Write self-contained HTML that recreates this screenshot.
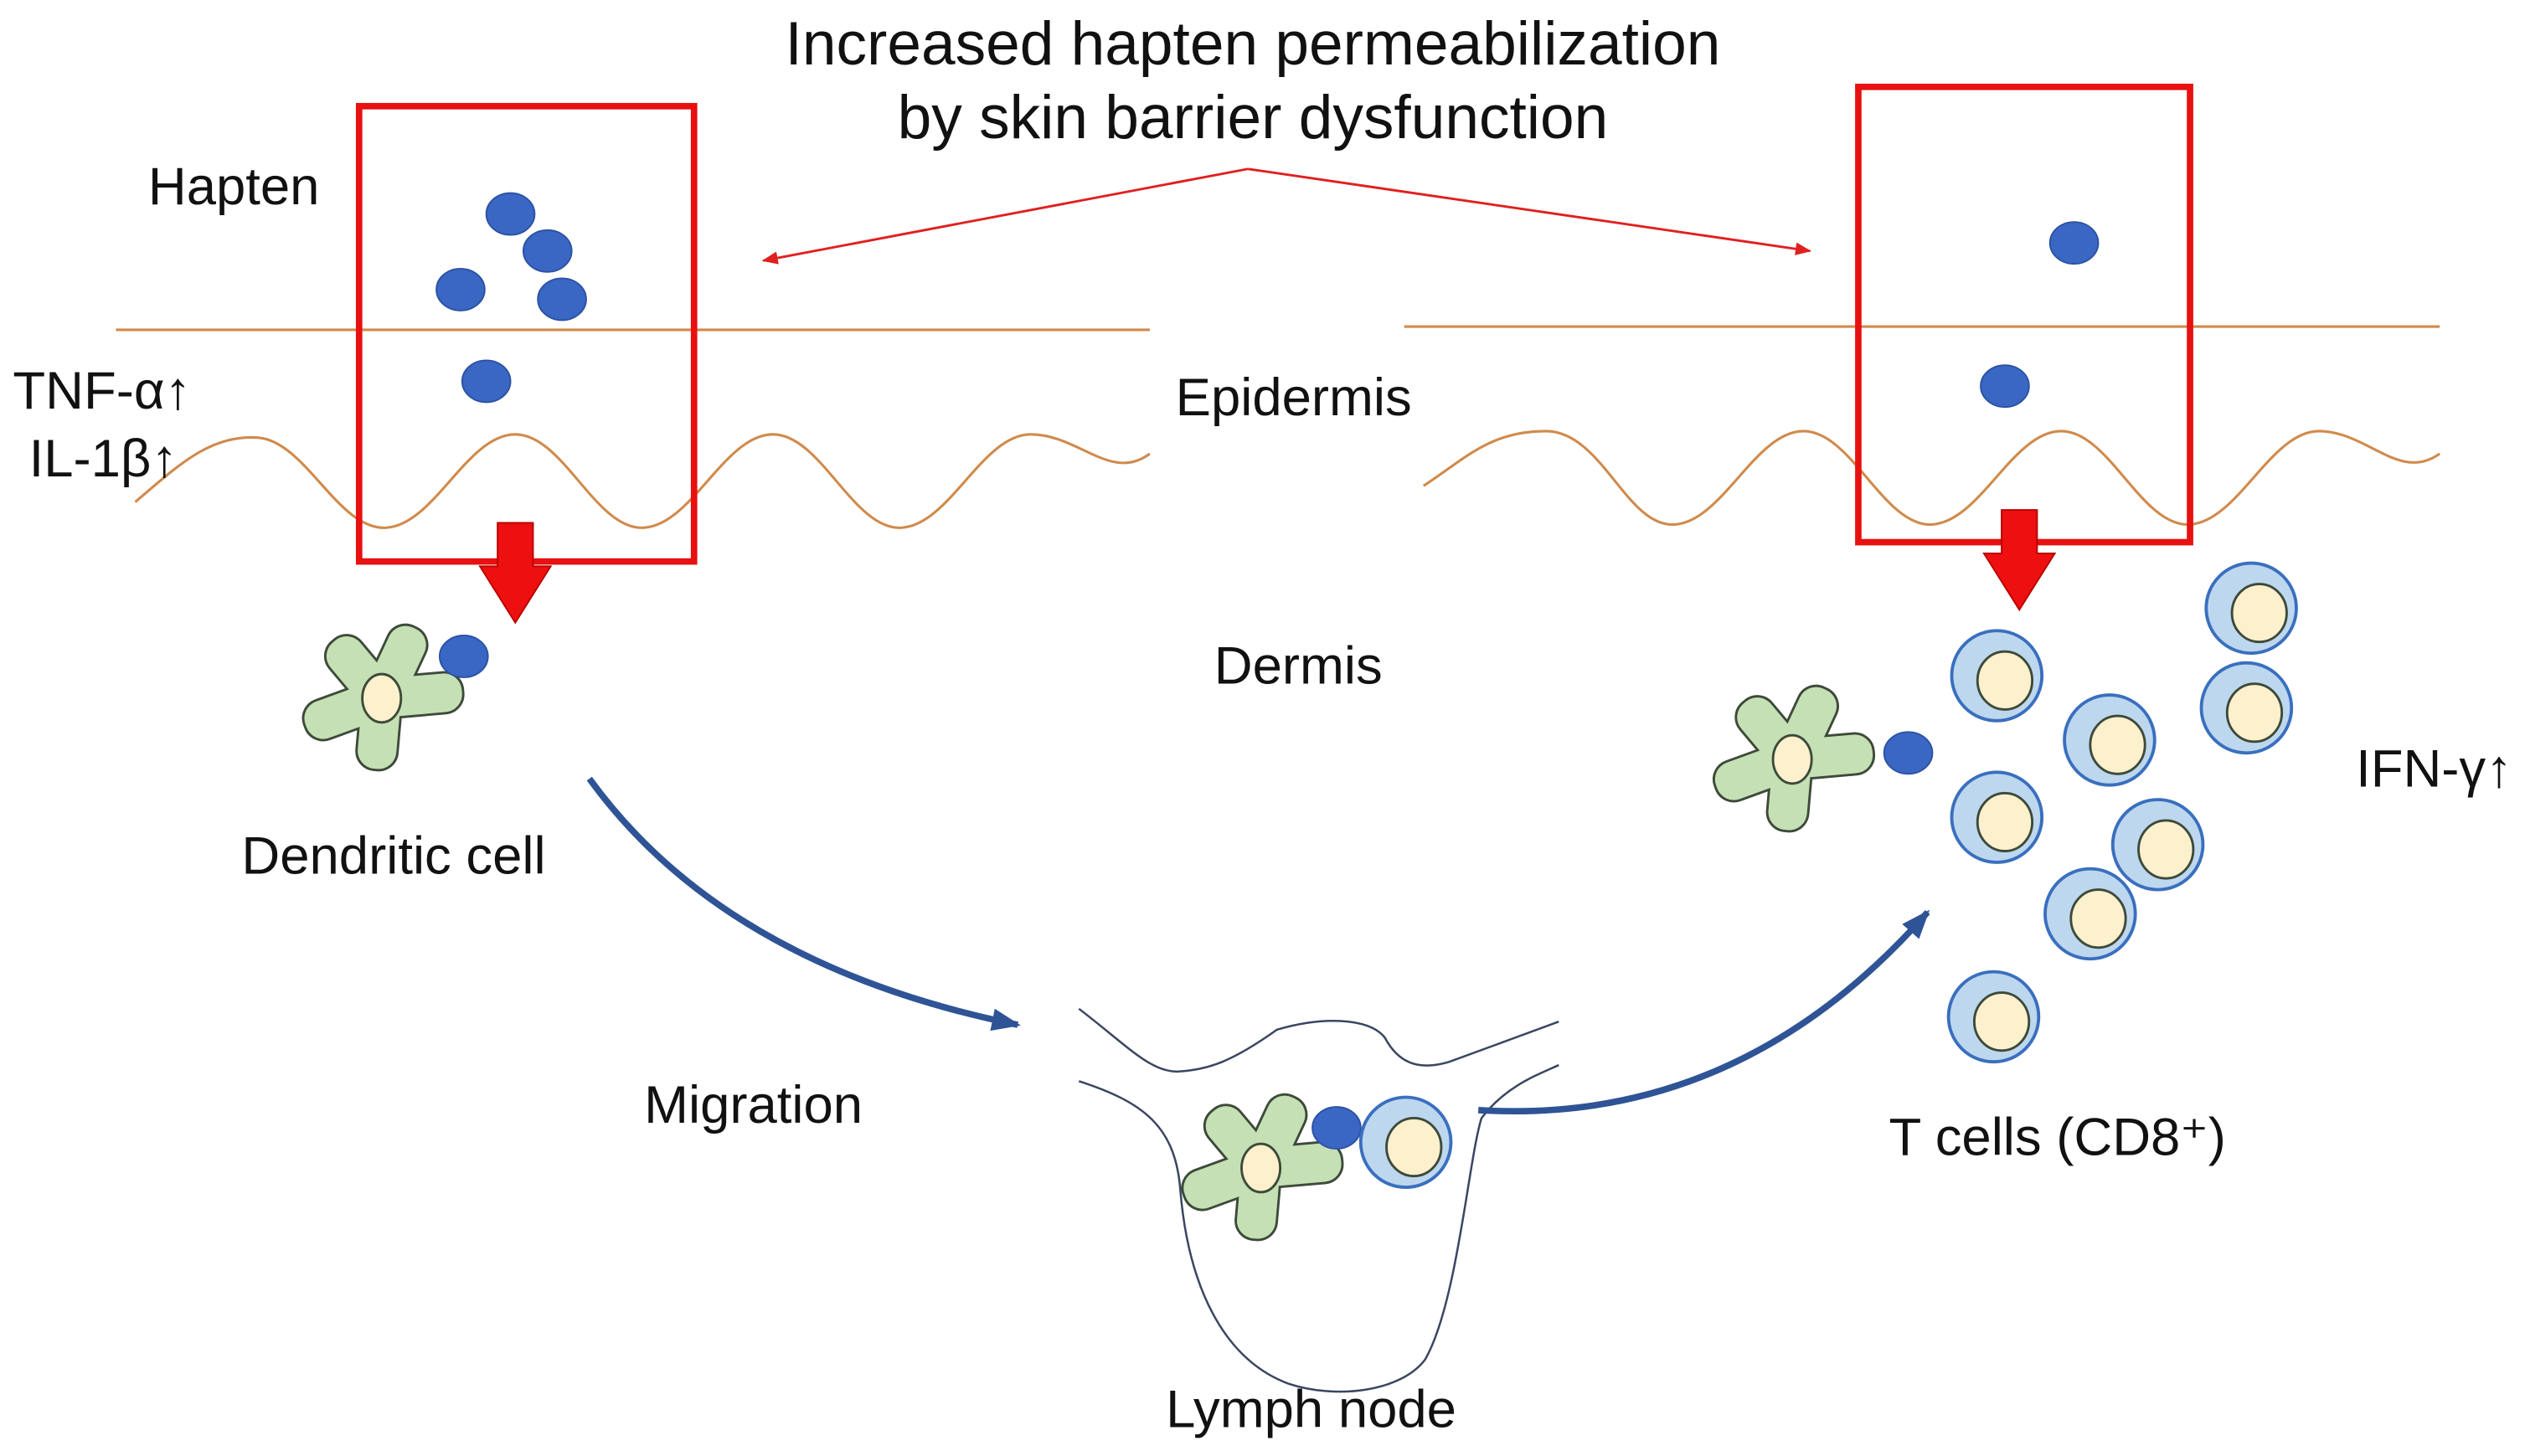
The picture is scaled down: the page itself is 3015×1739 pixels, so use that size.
<!DOCTYPE html>
<html><head><style>html,body{margin:0;padding:0;background:#fff}svg{display:block}text{font-family:"Liberation Sans",sans-serif;fill:#111}</style></head>
<body>
<svg width="3015" height="1739" viewBox="0 0 1568 905" preserveAspectRatio="none" xmlns="http://www.w3.org/2000/svg">
<defs>
<g id="arms">
<rect x="0" y="-12" width="48" height="24" rx="11" transform="rotate(-65)"/>
<rect x="0" y="-12" width="50" height="24" rx="11" transform="rotate(-5)"/>
<rect x="0" y="-12" width="44" height="24" rx="11" transform="rotate(95)"/>
<rect x="0" y="-12" width="50" height="24" rx="11" transform="rotate(160)"/>
<rect x="0" y="-12" width="46" height="24" rx="11" transform="rotate(-130)"/>
</g>
<g id="dc">
<use href="#arms" fill="none" stroke="#3d4a3a" stroke-width="3"/>
<use href="#arms" fill="#c5e0b4" stroke="none"/>
<ellipse cx="0" cy="0" rx="12" ry="15" fill="#fdf0cd" stroke="#3d4a3a" stroke-width="1.5"/>
</g>
<g id="hp"><ellipse cx="0" cy="0" rx="15" ry="13" fill="#3a66c4" stroke="#2c52a3" stroke-width="1"/></g>
<g id="tc"><circle cx="0" cy="0" r="28" fill="#bdd7ee" stroke="#3a6fbf" stroke-width="2"/><ellipse cx="5" cy="3" rx="17" ry="18" fill="#fdf0cd" stroke="#3d4a3a" stroke-width="1.5"/></g>
<marker id="ra" markerWidth="10" markerHeight="8" refX="9" refY="4" orient="auto" markerUnits="userSpaceOnUse"><path d="M0,0 L10,4 L0,8 z" fill="#e02020"/></marker>
<marker id="ba" markerWidth="18" markerHeight="14" refX="16" refY="7" orient="auto" markerUnits="userSpaceOnUse"><path d="M0,0 L18,7 L0,14 z" fill="#2f5496"/></marker>
</defs>

<text x="778" y="40" font-size="38" text-anchor="middle">Increased hapten permeabilization</text>
<text x="778" y="86" font-size="38" text-anchor="middle">by skin barrier dysfunction</text>
<line x1="775" y1="105" x2="474" y2="162" stroke="#e02020" stroke-width="1.5" marker-end="url(#ra)"/>
<line x1="775" y1="105" x2="1124" y2="156" stroke="#e02020" stroke-width="1.5" marker-end="url(#ra)"/>

<line x1="72" y1="205" x2="714" y2="205" stroke="#d08a4c" stroke-width="1.6"/>
<line x1="872" y1="203" x2="1515" y2="203" stroke="#d08a4c" stroke-width="1.6"/>
<path d="M84,312 C110,290 130,270 160,272 S210,330 240,328 S290,270 320,270 S370,330 400,328 S450,270 480,270 S530,330 560,328 S610,270 640,270 S690,300 714,282" fill="none" stroke="#d08a4c" stroke-width="1.6"/>
<path d="M884,302 C910,285 925,268 960,268 S1010,328 1040,326 S1090,268 1120,268 S1170,328 1200,326 S1250,268 1280,268 S1330,328 1360,326 S1410,268 1440,268 S1490,300 1515,282" fill="none" stroke="#d08a4c" stroke-width="1.6"/>

<rect x="223" y="66" width="208" height="283" fill="none" stroke="#e81010" stroke-width="4"/>
<rect x="1154" y="54" width="206" height="283" fill="none" stroke="#e81010" stroke-width="4"/>

<use href="#hp" x="317" y="133"/><use href="#hp" x="340" y="156"/><use href="#hp" x="286" y="180"/><use href="#hp" x="349" y="186"/><use href="#hp" x="302" y="237"/>
<use href="#hp" x="1288" y="151"/><use href="#hp" x="1245" y="240"/>

<path d="M309,325 h22 v27 h11 l-22,35 l-22,-35 h11 z" fill="#ee1010" stroke="#b00" stroke-width="1"/>
<path d="M1243,317 h22 v27 h11 l-22,35 l-22,-35 h11 z" fill="#ee1010" stroke="#b00" stroke-width="1"/>

<use href="#dc" x="237" y="434"/><use href="#hp" x="288" y="408"/>
<use href="#dc" x="1113" y="472"/><use href="#hp" x="1185" y="468"/>

<use href="#tc" x="1240" y="420"/><use href="#tc" x="1398" y="378"/><use href="#tc" x="1310" y="460"/><use href="#tc" x="1395" y="440"/><use href="#tc" x="1240" y="508"/><use href="#tc" x="1340" y="525"/><use href="#tc" x="1298" y="568"/><use href="#tc" x="1238" y="632"/>

<path d="M670,627 C700,650 715,667 732,666 C750,665 765,660 793,640 C820,632 850,632 860,645 C868,660 880,666 900,660 L968,635" fill="none" stroke="#3a4660" stroke-width="1.3"/>
<path d="M670,672 C710,685 730,700 733,740 C738,800 760,845 800,860 C830,870 870,865 885,845 C905,810 912,720 920,695 C935,675 955,668 968,662" fill="none" stroke="#3a4660" stroke-width="1.3"/>
<use href="#dc" x="783" y="726"/><use href="#hp" x="830" y="701"/><use href="#tc" x="873" y="710"/>

<path d="M366,484 Q450,600 632,637" fill="none" stroke="#2f5496" stroke-width="4" marker-end="url(#ba)"/>
<path d="M918,690 Q1080,700 1197,567" fill="none" stroke="#2f5496" stroke-width="4" marker-end="url(#ba)"/>

<text x="92" y="127" font-size="33">Hapten</text>
<text x="8" y="254" font-size="33">TNF-α↑</text>
<text x="18" y="296" font-size="33">IL-1β↑</text>
<text x="730" y="258" font-size="33">Epidermis</text>
<text x="754" y="425" font-size="33">Dermis</text>
<text x="150" y="543" font-size="33">Dendritic cell</text>
<text x="400" y="698" font-size="33">Migration</text>
<text x="724" y="887" font-size="33">Lymph node</text>
<text x="1173" y="718" font-size="33">T cells (CD8⁺)</text>
<text x="1463" y="489" font-size="33">IFN-γ↑</text>
</svg>
</body></html>
